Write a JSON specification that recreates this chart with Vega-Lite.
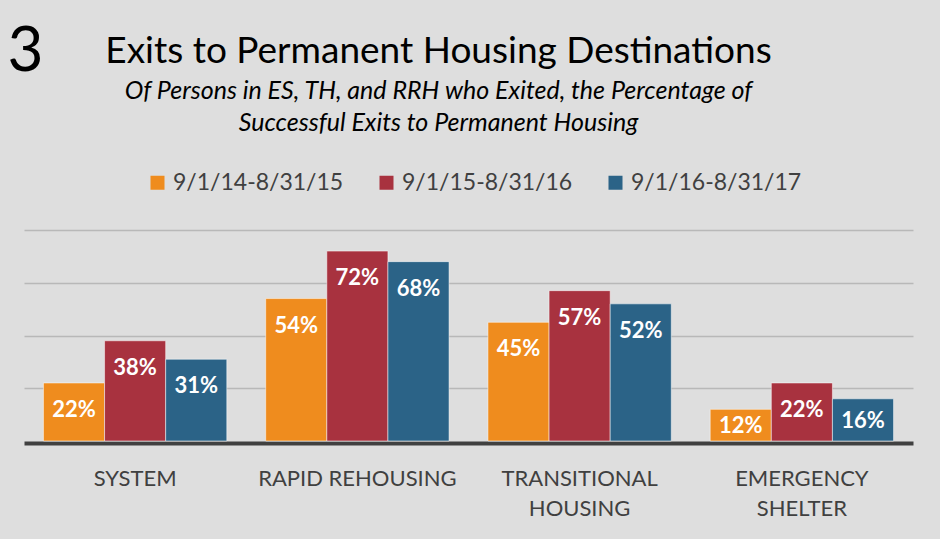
{
  "$schema": "https://vega.github.io/schema/vega-lite/v6.json",
  "width": 889,
  "height": 211,
  "autosize": {"type": "none"},
  "padding": {"left": 24, "top": 230, "right": 27, "bottom": 98},
  "background": "#dedede",
  "config": {"view": {"stroke": null}, "font": "Lato"},
  "title": {
    "text": "Exits to Permanent Housing Destinations",
    "subtitle": ["Of Persons in ES, TH, and RRH who Exited, the Percentage of", "Successful Exits to Permanent Housing"],
    "anchor": "middle",
    "frame": "group",
    "dx": -30,
    "offset": -117,
    "font": "Lato",
    "fontSize": 37,
    "fontWeight": "normal",
    "color": "#000000",
    "subtitleFont": "Lato",
    "subtitleFontSize": 25,
    "subtitleFontStyle": "italic",
    "subtitleColor": "#000000",
    "subtitleLineHeight": 32,
    "subtitlePadding": 8
  },
  "data": {
    "values": [
      {"cat": "SYSTEM", "period": "9/1/14-8/31/15", "value": 0.22},
      {"cat": "SYSTEM", "period": "9/1/15-8/31/16", "value": 0.38},
      {"cat": "SYSTEM", "period": "9/1/16-8/31/17", "value": 0.31},
      {"cat": "RAPID REHOUSING", "period": "9/1/14-8/31/15", "value": 0.54},
      {"cat": "RAPID REHOUSING", "period": "9/1/15-8/31/16", "value": 0.72},
      {"cat": "RAPID REHOUSING", "period": "9/1/16-8/31/17", "value": 0.68},
      {"cat": "TRANSITIONAL HOUSING", "period": "9/1/14-8/31/15", "value": 0.45},
      {"cat": "TRANSITIONAL HOUSING", "period": "9/1/15-8/31/16", "value": 0.57},
      {"cat": "TRANSITIONAL HOUSING", "period": "9/1/16-8/31/17", "value": 0.52},
      {"cat": "EMERGENCY SHELTER", "period": "9/1/14-8/31/15", "value": 0.12},
      {"cat": "EMERGENCY SHELTER", "period": "9/1/15-8/31/16", "value": 0.22},
      {"cat": "EMERGENCY SHELTER", "period": "9/1/16-8/31/17", "value": 0.16}
    ]
  },
  "encoding": {
    "x": {
      "field": "cat",
      "type": "nominal",
      "sort": ["SYSTEM", "RAPID REHOUSING", "TRANSITIONAL HOUSING", "EMERGENCY SHELTER"],
      "scale": {"paddingInner": 0.175, "paddingOuter": 0.0875},
      "axis": {
        "title": null,
        "labelAngle": 0,
        "domainColor": "#404040",
        "domainWidth": 4,
        "offset": 2,
        "ticks": false,
        "grid": false,
        "labelFont": "Lato",
        "labelFontSize": 22,
        "labelColor": "#404040",
        "labelPadding": 25,
        "labelBaseline": "top",
        "labelLineHeight": 30,
        "labelLimit": 400,
        "labelExpr": "datum.label == 'RAPID REHOUSING' ? datum.label : split(datum.label, ' ')"
      }
    },
    "xOffset": {
      "field": "period",
      "type": "nominal",
      "sort": ["9/1/14-8/31/15", "9/1/15-8/31/16", "9/1/16-8/31/17"],
      "scale": {"paddingInner": 0}
    },
    "y": {
      "field": "value",
      "type": "quantitative",
      "scale": {"domain": [0, 0.8], "nice": false},
      "axis": {
        "values": [0.2, 0.4, 0.6, 0.8],
        "labels": false,
        "ticks": false,
        "domain": false,
        "grid": true,
        "gridColor": "#b8b8b8",
        "gridWidth": 1.5,
        "title": "3",
        "titleAngle": 0,
        "titleX": -17,
        "titleY": -160,
        "titleAlign": "left",
        "titleBaseline": "alphabetic",
        "titleFont": "Lato",
        "titleFontSize": 62,
        "titleFontWeight": "normal",
        "titleColor": "#000000"
      }
    }
  },
  "layer": [
    {
      "mark": {"type": "bar", "stroke": "#ffffff", "strokeOpacity": 0.5, "strokeWidth": 1},
      "encoding": {
        "color": {
          "field": "period",
          "type": "nominal",
          "scale": {
            "domain": ["9/1/14-8/31/15", "9/1/15-8/31/16", "9/1/16-8/31/17"],
            "range": ["#EF8C1E", "#A8323F", "#2B6387"]
          },
          "legend": {
            "orient": "none",
            "legendX": 122,
            "legendY": -59,
            "direction": "horizontal",
            "title": null,
            "symbolType": "square",
            "symbolSize": 196,
            "symbolStrokeWidth": 0,
            "labelFont": "Lato",
            "labelFontSize": 23,
            "labelColor": "#404040",
            "labelLimit": 400,
            "labelOffset": 4,
            "columnPadding": 31,
            "padding": 0
          }
        }
      }
    },
    {
      "mark": {
        "type": "text",
        "color": "#ffffff",
        "fontWeight": "bold",
        "fontSize": 22,
        "font": "Lato",
        "baseline": "middle",
        "dy": {"expr": "min(27, datum.value * 132 + 1)"}
      },
      "encoding": {
        "text": {"field": "value", "type": "quantitative", "format": ".0%"}
      }
    }
  ]
}
